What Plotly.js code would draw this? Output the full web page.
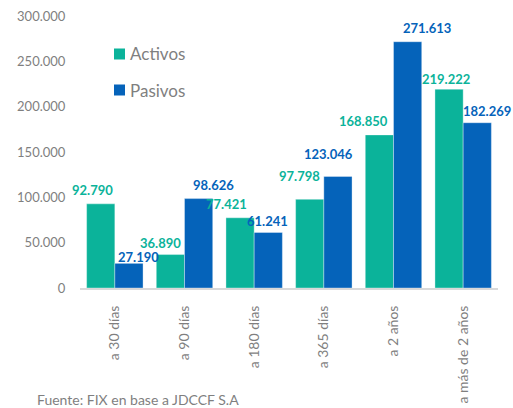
<!DOCTYPE html>
<html>
<head>
<meta charset="utf-8">
<script src="https://cdn.plot.ly/plotly-3.0.1.min.js"></script>
<style>html,body{margin:0;padding:0;background:#fff;}#chart{width:513px;height:408px;}</style>
</head>
<body>
<div id="chart"></div>
<script>
const categories = ["a 30 días", "a 90 días", "a 180 días", "a 365 días", "a 2 años", "a más de 2 años"];
const activos = [92790, 36890, 77421, 97798, 168850, 219222];
const pasivos = [27190, 98626, 61241, 123046, 271613, 182269];
const seriesNames = ["Activos", "Pasivos"];
const yTicks = [0, 50000, 100000, 150000, 200000, 250000, 300000];
const sourceText = "Fuente: FIX en base a JDCCF S.A";

// label placement style (pixel nudges, as in the original)
const activosLabelDx = [-8, -10, -14, -10, -16, -3];
const activosLabelDy = [5, 3, 5, 14, 5, 1];
const pasivosLabelDx = [10, 15, -1, -9, 19, 10];
const pasivosLabelDy = [-3, 5, 2, 13, 5, 3];

const cA = "#0bb39a", cP = "#0563ba";
const font = "Lato, 'Open Sans', sans-serif";
const barHalf = 14;

const traces = [
  {type:"bar", name:seriesNames[0], x:categories, y:activos, marker:{color:cA, line:{color:"rgba(255,255,255,0.35)", width:1}}, hoverinfo:"none", showlegend:false},
  {type:"bar", name:seriesNames[1], x:categories, y:pasivos, marker:{color:cP, line:{color:"rgba(255,255,255,0.35)", width:1}}, hoverinfo:"none", showlegend:false}
];

const fmt = v => v.toLocaleString("de-DE");
const annotations = [];
categories.forEach((c, i) => {
  annotations.push({x:c, y:activos[i], xref:"x", yref:"y", text:"<b>"+fmt(activos[i])+"</b>", showarrow:false, yanchor:"bottom", xanchor:"center",
    xshift:-barHalf + activosLabelDx[i], yshift:activosLabelDy[i], font:{family:font, size:13, color:cA}, borderpad:0});
  annotations.push({x:c, y:pasivos[i], xref:"x", yref:"y", text:"<b>"+fmt(pasivos[i])+"</b>", showarrow:false, yanchor:"bottom", xanchor:"center",
    xshift:barHalf + pasivosLabelDx[i], yshift:pasivosLabelDy[i], font:{family:font, size:13, color:cP}, borderpad:0});
});

// legend (drawn manually to match the original spacing)
const px2x = px => (px - 80) / 418;
const py2y = py => (288 - py) / 272;
const legendItems = [{name:seriesNames[0], color:cA, cy:54}, {name:seriesNames[1], color:cP, cy:90}];
const shapes = [];
legendItems.forEach(it => {
  shapes.push({type:"rect", xref:"paper", yref:"paper", x0:px2x(114), x1:px2x(125), y0:py2y(it.cy+5.5), y1:py2y(it.cy-5.5), fillcolor:it.color, line:{width:0}});
  annotations.push({xref:"paper", yref:"paper", x:px2x(129), y:py2y(it.cy), xanchor:"left", yanchor:"middle", text:it.name, showarrow:false, font:{family:font, size:17, color:"#7f7f7f"}, borderpad:0});
});
annotations.push({text:sourceText, xref:"paper", yref:"paper", x:px2x(35), y:py2y(399), xanchor:"left", yanchor:"middle", showarrow:false, font:{family:font, size:14, color:"#7f7f7f"}});

const layout = {
  width:513, height:408,
  margin:{l:80, r:15, t:16, b:120},
  paper_bgcolor:"#fff", plot_bgcolor:"#fff",
  separators:",.",
  font:{family:font, color:"#7f7f7f"},
  barmode:"group", bargap:0.19, bargroupgap:0,
  showlegend:false,
  xaxis:{type:"category", range:[-0.5, categories.length - 0.5], autorange:false, tickangle:-90, tickfont:{size:14, color:"#7f7f7f"}, showline:true, linecolor:"#d9d9d9", linewidth:2, ticks:"outside", ticklen:10, tickcolor:"rgba(0,0,0,0)", showgrid:false, zeroline:false, fixedrange:true},
  yaxis:{range:[0,300000], autorange:false, tickvals:yTicks, tickformat:",", tickfont:{size:13, color:"#7f7f7f"}, showgrid:false, zeroline:false, showline:false, ticks:"outside", ticklen:11, tickcolor:"rgba(0,0,0,0)", fixedrange:true},
  annotations:annotations,
  shapes:shapes
};

Plotly.newPlot("chart", traces, layout, {staticPlot:true, displayModeBar:false});
</script>
</body>
</html>
